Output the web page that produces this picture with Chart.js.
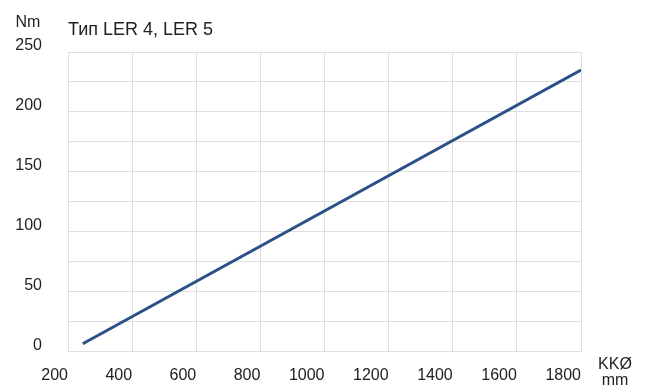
<!DOCTYPE html>
<html>
<head>
<meta charset="utf-8">
<script src="https://cdn.jsdelivr.net/npm/chart.js@4/dist/chart.umd.min.js"></script>
<style>
  html, body { margin: 0; padding: 0; background: #ffffff; }
  #wrap { width: 653px; height: 387px; position: relative; }
</style>
</head>
<body>
<div id="wrap"><canvas id="c" width="653" height="387"></canvas></div>
<script>
// Torque curve for types LER 4 / LER 5 over the KK diameter
const chartTitle = 'Тип LER 4, LER 5';
const yUnit = 'Nm';
const xUnitLines = ['KKØ', 'mm'];

const diameterMm = [246, 1800];
const torqueNm = [6.4, 235];

const xTicks = [200, 400, 600, 800, 1000, 1200, 1400, 1600, 1800];
const yTicks = [0, 50, 100, 150, 200, 250];

const textColor = '#222222';
const gridColor = '#dfdfdf';
const fontFamily = '"Liberation Sans", Arial, Helvetica, sans-serif';

// Free-standing captions: unit labels and the type heading
const captions = {
  id: 'captions',
  afterDraw(chart) {
    const ctx = chart.ctx;
    const area = chart.chartArea;
    ctx.save();
    ctx.fillStyle = textColor;
    ctx.textBaseline = 'middle';
    ctx.font = '16px ' + fontFamily;
    ctx.textAlign = 'center';
    ctx.fillText(yUnit, 28, 23);
    ctx.fillText(xUnitLines[0], area.right + 34, 365);
    ctx.fillText(xUnitLines[1], area.right + 34, 381);
    ctx.font = '18px ' + fontFamily;
    ctx.textAlign = 'left';
    ctx.fillText(chartTitle, area.left, 30);
    ctx.restore();
  }
};

new Chart(document.getElementById('c'), {
  type: 'line',
  data: {
    datasets: [{
      data: diameterMm.map((x, i) => ({ x: x, y: torqueNm[i] })),
      borderColor: '#2a5286',
      borderWidth: 3,
      pointRadius: 0,
      tension: 0,
      fill: false
    }]
  },
  options: {
    responsive: false,
    animation: false,
    devicePixelRatio: 1,
    layout: { padding: { top: 52, right: 72, bottom: 0, left: 0 } },
    plugins: { legend: { display: false }, tooltip: { enabled: false }, title: { display: false } },
    scales: {
      x: {
        type: 'linear',
        min: xTicks[0],
        max: xTicks[xTicks.length - 1],
        afterBuildTicks(scale) { scale.ticks = xTicks.map(v => ({ value: v })); },
        afterFit(scale) { scale.height = 32; },
        grid: { color: gridColor, lineWidth: 1, drawTicks: false },
        border: { color: gridColor, width: 1 },
        ticks: {
          align: 'end',
          padding: 15,
          color: textColor,
          maxRotation: 0,
          autoSkip: false,
          font: { size: 16, family: fontFamily },
          callback: v => String(v)
        }
      },
      y: {
        type: 'linear',
        min: 0,
        max: 250,
        afterBuildTicks(scale) {
          const t = [];
          for (let v = 0; v <= 250; v += 25) t.push({ value: v });
          scale.ticks = t;
        },
        afterFit(scale) { scale.width = 68; },
        grid: { color: gridColor, lineWidth: 1, drawTicks: false },
        border: { color: gridColor, width: 1 },
        ticks: {
          padding: 26,
          labelOffset: -6,
          color: textColor,
          autoSkip: false,
          font: { size: 16, family: fontFamily },
          callback: v => (yTicks.includes(v) ? String(v) : '')
        }
      }
    }
  },
  plugins: [captions]
});
</script>
</body>
</html>
